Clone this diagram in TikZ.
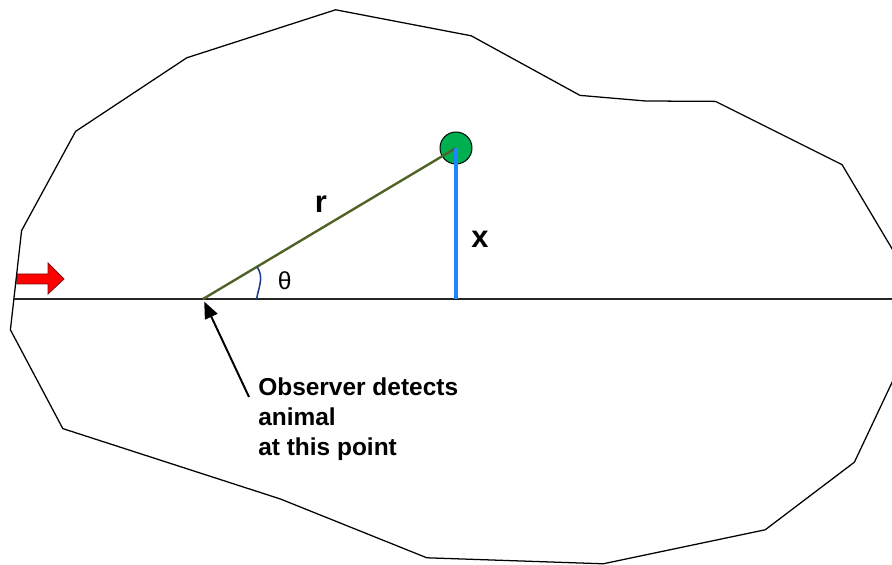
\documentclass[tikz,border=0pt]{standalone}
\usepackage{fontspec}
\setsansfont{Liberation Sans}
\usepackage{tikz}
\usetikzlibrary{arrows.meta,positioning,calc}
\definecolor{animalgreen}{HTML}{00B050}
\definecolor{olive}{HTML}{4F6228}
\definecolor{xblue}{HTML}{1E86FF}
\definecolor{navy}{HTML}{1F3A8C}
\definecolor{darkred}{HTML}{7A1010}

\begin{document}
\begin{tikzpicture}[font=\sffamily,
  boundary/.style={black,line width=0.9pt,line join=miter},
  transect/.style={black!85,line width=0.75pt},
  lbl/.style={font=\sffamily\bfseries\fontsize{22}{26}\selectfont,inner sep=0pt},
  note/.style={font=\sffamily\bfseries\fontsize{17.4}{21.3}\selectfont,align=left,inner sep=0pt}]
  \useasboundingbox (0,0) rectangle (22.3,14.125);
  \clip (0,0) rectangle (22.3,14.125);
  % walking direction
  \draw[fill=red,draw=darkred,line width=0.6pt,line join=miter]
    (0.42,7.025) -- (1.2,7.025) -- (1.2,6.775) -- (1.6,7.15) -- (1.2,7.55) -- (1.2,7.275) -- (0.42,7.275) -- cycle;
  % study area
  \draw[boundary] (8.39,13.88) -- (11.78,13.23) -- (14.5,11.74) -- (16.14,11.6) -- (17.89,11.59)
    -- (21.05,10.01) -- (23.18,6.43) -- (21.36,2.57) -- (19.13,0.88) -- (15.08,0.03)
    -- (10.67,0.18) -- (7.01,1.65) -- (1.57,3.41) -- (0.26,5.88) -- (0.54,8.36)
    -- (1.89,10.84) -- (4.67,12.68) -- cycle;
  % transect line
  \coordinate (tstart) at (0.34,6.65);
  \coordinate (tend) at (22.5,6.65);
  \draw[transect] (tstart) -- (tend);
  \coordinate (obs) at (5.075,6.65);
  \coordinate (foot) at (11.4,6.65);
  \node[circle,draw=black,fill=animalgreen,line width=0.7pt,minimum size=0.8cm,inner sep=0pt] (animal) at (11.4,10.425) {};
  \draw[olive,line width=1.7pt] (obs) -- (animal.center);
  \draw[xblue,line width=2.6pt] (animal.center) -- (foot);
  \draw[navy,line width=1.1pt] ($(obs)+(1.34,0)$) to[out=80,in=-55] ($(obs)+(1.35,0.805)$);
  \node[lbl] (rlbl) at (8.025,9.025) {r};
  \node[lbl] (xlbl) at (12.0,8.15) {x};
  \node[inner sep=0pt,font=\sffamily\fontsize{17.5}{20}\selectfont] (theta) at (7.12,7.1) {θ};
  % observer
  \node[note,anchor=north west] (obsnote) at (6.45,4.675) {Observer detects\\animal\\at this point};
  \coordinate (tail) at (6.225,4.2);
  \draw[black,line width=1.4pt,-{Triangle[length=0.42cm,width=0.34cm]},shorten >=2pt] (tail) -- (obs);
\end{tikzpicture}
\end{document}
